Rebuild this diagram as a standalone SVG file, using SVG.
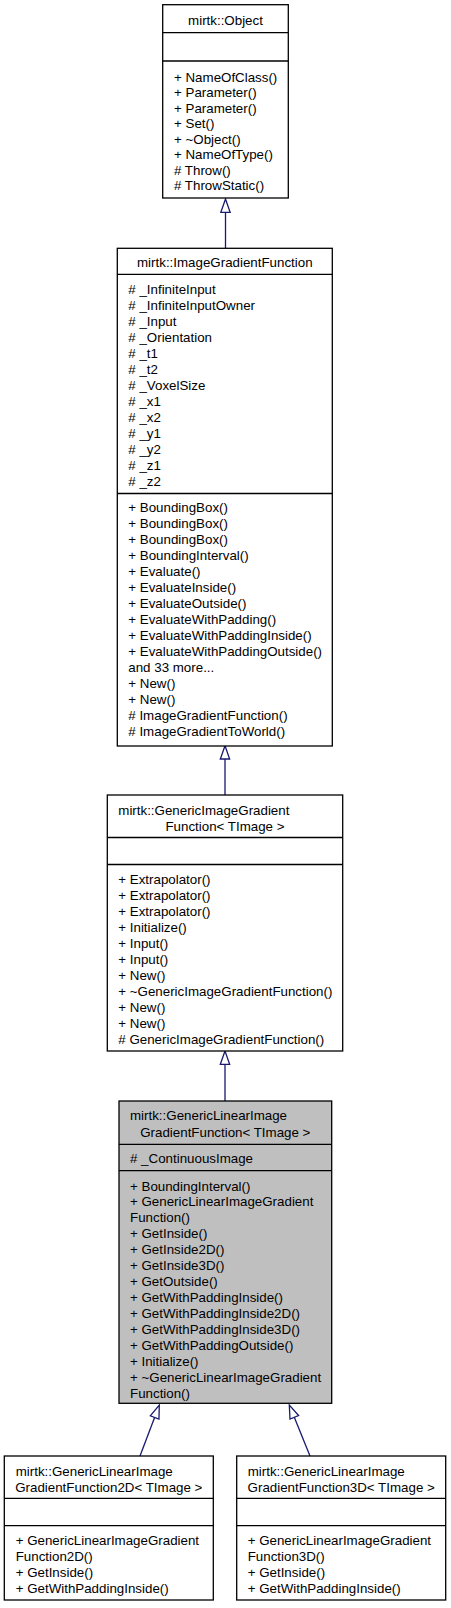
<svg xmlns="http://www.w3.org/2000/svg" width="451" height="1608" viewBox="0 0 451 1608">
<style>
text{font-family:"Liberation Sans",Arial,Helvetica,sans-serif;font-size:13.33px;fill:#000}
.c{text-anchor:middle}
.box{fill:#fff;stroke:#000;stroke-width:1.3}
.cur{fill:#bfbfbf;stroke:#000;stroke-width:1.3}
.sep{stroke:#000;stroke-width:1.3}
.edge{fill:none;stroke:#191970;stroke-width:1.3}
</style>
<defs>
<marker id="inh" markerUnits="userSpaceOnUse" markerWidth="16" markerHeight="12" viewBox="-1 -6 16 12" refX="0" refY="0" orient="auto">
<path d="M0,-4.65 L13.3,0 L0,4.65 Z" fill="#fff" stroke="#191970" stroke-width="1.3"/>
</marker>
</defs>
<rect width="451" height="1608" fill="#fff"/>
<g id="connectors">
<path class="edge" d="M225.5,248.3 L225.5,212.3" marker-end="url(#inh)"/>
<path class="edge" d="M225,795 L225,759" marker-end="url(#inh)"/>
<path class="edge" d="M225,1101 L225,1064.3" marker-end="url(#inh)"/>
<path class="edge" d="M140,1456 L154.6,1417.45" marker-end="url(#inh)"/>
<path class="edge" d="M310,1456 L294.3,1417.3" marker-end="url(#inh)"/>
</g>
<g id="node-object">
<rect class="box" x="162.7" y="4.7" width="125.6" height="193.3"/>
<line class="sep" x1="162.7" y1="32.7" x2="288.3" y2="32.7"/>
<line class="sep" x1="162.7" y1="61" x2="288.3" y2="61"/>
<text class="c" x="225.5" y="24.5">mirtk::Object</text>
<text x="174" y="81.5">+ NameOfClass()</text>
<text x="174" y="97">+ Parameter()</text>
<text x="174" y="112.5">+ Parameter()</text>
<text x="174" y="128">+ Set()</text>
<text x="174" y="143.5">+ ~Object()</text>
<text x="174" y="159">+ NameOfType()</text>
<text x="174" y="174.5"># Throw()</text>
<text x="174" y="190"># ThrowStatic()</text>
</g>
<g id="node-imagegradientfunction">
<rect class="box" x="117.3" y="248.3" width="215" height="497.7"/>
<line class="sep" x1="117.3" y1="274.3" x2="332.3" y2="274.3"/>
<line class="sep" x1="117.3" y1="493.5" x2="332.3" y2="493.5"/>
<text class="c" x="224.8" y="267.2">mirtk::ImageGradientFunction</text>
<text x="128.3" y="294.3"># _InfiniteInput</text>
<text x="128.3" y="310.3"># _InfiniteInputOwner</text>
<text x="128.3" y="326.3"># _Input</text>
<text x="128.3" y="342.3"># _Orientation</text>
<text x="128.3" y="358.3"># _t1</text>
<text x="128.3" y="374.3"># _t2</text>
<text x="128.3" y="390.3"># _VoxelSize</text>
<text x="128.3" y="406.3"># _x1</text>
<text x="128.3" y="422.3"># _x2</text>
<text x="128.3" y="438.3"># _y1</text>
<text x="128.3" y="454.3"># _y2</text>
<text x="128.3" y="470.3"># _z1</text>
<text x="128.3" y="486.3"># _z2</text>
<text x="128.3" y="511.8">+ BoundingBox()</text>
<text x="128.3" y="527.8">+ BoundingBox()</text>
<text x="128.3" y="543.8">+ BoundingBox()</text>
<text x="128.3" y="559.8">+ BoundingInterval()</text>
<text x="128.3" y="575.8">+ Evaluate()</text>
<text x="128.3" y="591.8">+ EvaluateInside()</text>
<text x="128.3" y="607.8">+ EvaluateOutside()</text>
<text x="128.3" y="623.8">+ EvaluateWithPadding()</text>
<text x="128.3" y="639.8">+ EvaluateWithPaddingInside()</text>
<text x="128.3" y="655.8">+ EvaluateWithPaddingOutside()</text>
<text x="128.3" y="671.8">and 33 more...</text>
<text x="128.3" y="687.8">+ New()</text>
<text x="128.3" y="703.8">+ New()</text>
<text x="128.3" y="719.8"># ImageGradientFunction()</text>
<text x="128.3" y="735.8"># ImageGradientToWorld()</text>
</g>
<g id="node-genericimagegradientfunction">
<rect class="box" x="107.3" y="795" width="235.4" height="256"/>
<line class="sep" x1="107.3" y1="837.5" x2="342.7" y2="837.5"/>
<line class="sep" x1="107.3" y1="864.5" x2="342.7" y2="864.5"/>
<text x="118.3" y="814.5">mirtk::GenericImageGradient</text>
<text class="c" x="225" y="831.2">Function&lt; TImage &gt;</text>
<text x="118.3" y="883.5">+ Extrapolator()</text>
<text x="118.3" y="899.5">+ Extrapolator()</text>
<text x="118.3" y="915.5">+ Extrapolator()</text>
<text x="118.3" y="931.5">+ Initialize()</text>
<text x="118.3" y="947.5">+ Input()</text>
<text x="118.3" y="963.5">+ Input()</text>
<text x="118.3" y="979.5">+ New()</text>
<text x="118.3" y="995.5">+ ~GenericImageGradientFunction()</text>
<text x="118.3" y="1011.5">+ New()</text>
<text x="118.3" y="1027.5">+ New()</text>
<text x="118.3" y="1043.5"># GenericImageGradientFunction()</text>
</g>
<g id="node-genericlinearimagegradientfunction">
<rect class="cur" x="119" y="1101" width="212.7" height="302.3"/>
<line class="sep" x1="119" y1="1144.3" x2="331.7" y2="1144.3"/>
<line class="sep" x1="119" y1="1170.7" x2="331.7" y2="1170.7"/>
<text x="130" y="1120.2">mirtk::GenericLinearImage</text>
<text class="c" x="225.3" y="1136.8">GradientFunction&lt; TImage &gt;</text>
<text x="130" y="1162.8"># _ContinuousImage</text>
<text x="130" y="1190.5">+ BoundingInterval()</text>
<text x="130" y="1206.45">+ GenericLinearImageGradient</text>
<text x="130" y="1222.4">Function()</text>
<text x="130" y="1238.35">+ GetInside()</text>
<text x="130" y="1254.3">+ GetInside2D()</text>
<text x="130" y="1270.25">+ GetInside3D()</text>
<text x="130" y="1286.2">+ GetOutside()</text>
<text x="130" y="1302.15">+ GetWithPaddingInside()</text>
<text x="130" y="1318.1">+ GetWithPaddingInside2D()</text>
<text x="130" y="1334.05">+ GetWithPaddingInside3D()</text>
<text x="130" y="1350">+ GetWithPaddingOutside()</text>
<text x="130" y="1365.95">+ Initialize()</text>
<text x="130" y="1381.9">+ ~GenericLinearImageGradient</text>
<text x="130" y="1397.85">Function()</text>
</g>
<g id="node-genericlinearimagegradientfunction2d">
<rect class="box" x="4.3" y="1456" width="209" height="144"/>
<line class="sep" x1="4.3" y1="1498.3" x2="213.3" y2="1498.3"/>
<line class="sep" x1="4.3" y1="1525.7" x2="213.3" y2="1525.7"/>
<text x="15.7" y="1475.5">mirtk::GenericLinearImage</text>
<text class="c" x="108.8" y="1491.8">GradientFunction2D&lt; TImage &gt;</text>
<text x="15.7" y="1544.5">+ GenericLinearImageGradient</text>
<text x="15.7" y="1560.5">Function2D()</text>
<text x="15.7" y="1576.5">+ GetInside()</text>
<text x="15.7" y="1592.5">+ GetWithPaddingInside()</text>
</g>
<g id="node-genericlinearimagegradientfunction3d">
<rect class="box" x="236.7" y="1456" width="209" height="144"/>
<line class="sep" x1="236.7" y1="1498.3" x2="445.7" y2="1498.3"/>
<line class="sep" x1="236.7" y1="1525.7" x2="445.7" y2="1525.7"/>
<text x="247.7" y="1475.5">mirtk::GenericLinearImage</text>
<text class="c" x="341.2" y="1491.8">GradientFunction3D&lt; TImage &gt;</text>
<text x="247.7" y="1544.5">+ GenericLinearImageGradient</text>
<text x="247.7" y="1560.5">Function3D()</text>
<text x="247.7" y="1576.5">+ GetInside()</text>
<text x="247.7" y="1592.5">+ GetWithPaddingInside()</text>
</g>
</svg>
